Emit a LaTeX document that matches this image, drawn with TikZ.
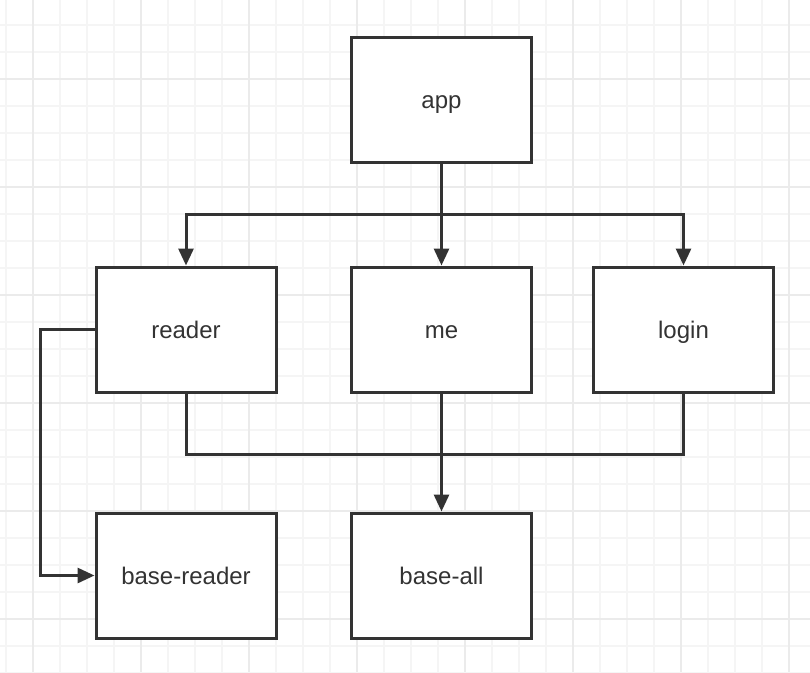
\documentclass[tikz,border=0pt]{standalone}
\usepackage{fontspec}
\setmainfont{Liberation Sans}
\usetikzlibrary{arrows.meta}
\definecolor{ink}{HTML}{333333}
\definecolor{gridminor}{HTML}{F5F5F5}
\definecolor{gridmajor}{HTML}{EBEBEB}
\tikzset{module/.style={draw=ink,line width=3pt,fill=white,minimum width=180pt,minimum height=125pt,inner sep=0pt,text height=20pt,text depth=3pt,font=\fontsize{24}{28}\selectfont,text=ink}}
\tikzset{link/.style={draw=ink,line width=3pt}}
\tikzset{dep/.style={link,-{Triangle[length=17pt,width=15pt]}}}

\begin{document}
\begin{tikzpicture}[x=1pt,y=-1pt]
    \useasboundingbox (0,0) rectangle (810,672);
    \fill[white] (0,0) rectangle (810,672);

    % background grid
    \foreach \x in {0,...,29}{
      \draw[gridminor,line width=1.5pt] (6+27*\x,0) -- (6+27*\x,672);
    }
    \foreach \y in {0,...,24}{
      \draw[gridminor,line width=1.5pt] (0,25+27*\y) -- (810,25+27*\y);
    }
    \foreach \x in {0,...,7}{
      \draw[gridmajor,line width=1.5pt] (33+108*\x,0) -- (33+108*\x,672);
    }
    \foreach \y in {0,...,5}{
      \draw[gridmajor,line width=1.5pt] (0,79+108*\y) -- (810,79+108*\y);
    }

    % modules
    \node[module] (app) at (441.5,99.5) {app};
    \node[module] (reader) at (186,329.5) {reader};
    \node[module] (me) at (441.5,329.5) {me};
    \node[module] (login) at (683.5,329.5) {login};
    \node[module] (basereader) at (186,575.5) {base-reader};
    \node[module] (baseall) at (441.5,575.5) {base-all};

    % app -> reader, me, login
    \coordinate (bus) at (441.5,214);
    \draw[dep] (app.south) -- (me.north);
    \draw[dep] (bus) -| (reader.north);
    \draw[dep] (bus) -| (login.north);

    % reader, me, login -> base-all
    \draw[link] (reader.south) -- ++(0,61) -| (login.south);
    \draw[dep] (me.south) -- (baseall.north);

    % reader -> base-reader
    \draw[dep] (reader.west) -- ++(-54,0) |- (basereader.west);
\end{tikzpicture}
\end{document}
